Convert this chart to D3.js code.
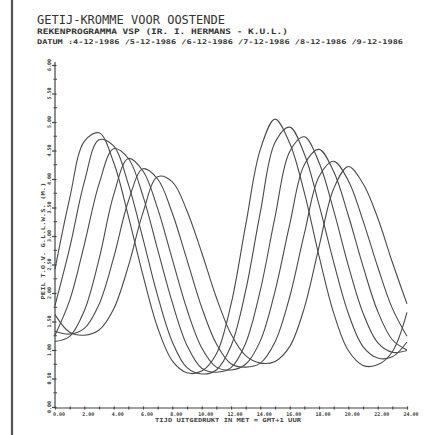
<!DOCTYPE html>
<html><head><meta charset="utf-8">
<script src="https://cdn.jsdelivr.net/npm/d3@7"></script>
<style>body{margin:0;background:#fff}svg{display:block}</style>
</head><body>
<svg id="c" width="444" height="435"></svg>
<script>
// ---- data ----
const titleLines = [
  "GETIJ-KROMME VOOR OOSTENDE",
  "REKENPROGRAMMA VSP (IR. I. HERMANS - K.U.L.)",
  "DATUM :4-12-1986 /5-12-1986 /6-12-1986 /7-12-1986 /8-12-1986 /9-12-1986"
];
const days = ["4-12-1986","5-12-1986","6-12-1986","7-12-1986","8-12-1986","9-12-1986"];
const hours = [0,1,2,3,4,5,6,7,8,9,10,11,12,13,14,15,16,17,18,19,20,21,22,23,24];
const day4 = [2.42,3.66,4.66,4.81,4.29,3.35,2.31,1.39,0.81,0.60,0.63,0.93,1.80,3.19,4.52,5.05,4.63,3.76,2.65,1.65,0.99,0.73,0.74,0.97,1.66];
const day5 = [1.78,2.79,3.95,4.69,4.58,3.91,2.95,1.95,1.14,0.69,0.58,0.65,1.07,2.04,3.42,4.64,4.91,4.44,3.55,2.54,1.64,1.06,0.86,0.88,1.14];
const day6 = [1.26,1.87,2.85,3.91,4.53,4.36,3.70,2.76,1.83,1.08,0.68,0.61,0.69,1.12,2.05,3.33,4.48,4.74,4.29,3.45,2.48,1.65,1.13,0.96,0.99];
const day7 = [1.15,1.24,1.69,2.59,3.72,4.36,4.14,3.48,2.59,1.71,1.04,0.70,0.65,0.75,1.16,2.03,3.20,4.25,4.52,4.13,3.36,2.47,1.68,1.18,1.00];
const day8 = [1.33,1.28,1.38,1.80,2.62,3.61,4.18,4.00,3.40,2.58,1.75,1.11,0.76,0.70,0.77,1.14,1.93,3.04,4.04,4.31,3.97,3.27,2.46,1.73,1.24];
const day9 = [1.62,1.31,1.26,1.35,1.72,2.47,3.41,4.04,3.95,3.44,2.71,1.92,1.28,0.90,0.77,0.80,1.06,1.74,2.81,3.83,4.22,3.92,3.32,2.54,1.81];
const xTickValues = [0,2,4,6,8,10,12,14,16,18,20,22,24];
const xTickLabels = ["0.00","2.00","4.00","6.00","8.00","10.00","12.00","14.00","16.00","18.00","20.00","22.00","24.00"];
const yTickValues = [0,0.5,1,1.5,2,2.5,3,3.5,4,4.5,5,5.5,6];
const yTickLabels = ["0.00","0.50","1.00","1.50","2.00","2.50","3.00","3.50","4.00","4.50","5.00","5.50","6.00"];
const yMinor = [0.25,0.75,1.25,1.75,2.25,2.75,3.25,3.75,4.25,4.75,5.25,5.75];
const xTitle = "TIJD UITGEDRUKT IN MET = GMT+1 UUR";
const yTitle = "PEIL T.O.V. G.L.L.W.S. (M.)";

const series = [day4, day5, day6, day7, day8, day9];

// ---- drawing ----
const svg = d3.select("#c");
const ink = "#444";
const mono = "'DejaVu Sans Mono', 'Liberation Mono', monospace";

// scan border line at left
svg.append("line").attr("x1",12).attr("x2",12).attr("y1",0).attr("y2",435)
  .attr("stroke","#555").attr("stroke-width",2.2);

const x = d3.scaleLinear().domain([0,24]).range([55,407]);
const y = d3.scaleLinear().domain([0,6]).range([407,65]);

// titles
const tl = [
  {y:24, size:12, w:188, weight:"normal"},
  {y:33.5, size:7.5, w:251, weight:"bold"},
  {y:44, size:6.5, w:366, weight:"bold"}
];
titleLines.forEach((t,i)=>{
  svg.append("text").attr("x",37).attr("y",tl[i].y)
    .attr("font-family",mono).attr("font-size",tl[i].size).attr("font-weight",tl[i].weight)
    .attr("fill","#333").attr("textLength",tl[i].w).attr("lengthAdjust","spacingAndGlyphs")
    .text(t);
});

// x axis
const gx = svg.append("g").attr("transform","translate(0,408)");
gx.call(d3.axisBottom(x).tickValues(hours).tickSize(3).tickFormat(""));
gx.selectAll("path,line").attr("stroke",ink).attr("stroke-width",1.2);
gx.selectAll(".tick line").attr("y1",-1.5).attr("y2",1.5);
gx.select(".domain").attr("d","M55,0H407");
const gxl = svg.append("g");
xTickValues.forEach((v,i)=>{
  gxl.append("text").attr("x",x(v)+4).attr("y",415.5).attr("text-anchor","middle")
    .attr("font-family",mono).attr("font-size",5).attr("font-weight","bold").attr("fill",ink)
    .text(xTickLabels[i]);
});
svg.append("text").attr("x",228).attr("y",422).attr("text-anchor","middle")
  .attr("font-family",mono).attr("font-size",5.5).attr("font-weight","bold").attr("fill",ink)
  .attr("textLength",146).attr("lengthAdjust","spacingAndGlyphs").text(xTitle);

// y axis
const gy = svg.append("g").attr("transform","translate(55,0)");
gy.call(d3.axisLeft(y).tickValues(yTickValues).tickSize(3).tickFormat(""));
gy.selectAll("path,line").attr("stroke",ink).attr("stroke-width",1.2);
gy.select(".domain").attr("d","M0,407V62");
gy.selectAll(".tick line").attr("x2",-3).attr("x1",1.5);
yMinor.forEach(v=>{
  gy.append("line").attr("x1",-1.5).attr("x2",2).attr("y1",y(v)).attr("y2",y(v))
    .attr("stroke",ink).attr("stroke-width",1);
});
yTickValues.forEach((v,i)=>{
  svg.append("text").attr("transform",`translate(51,${y(v)}) rotate(-90)`)
    .attr("text-anchor","middle").attr("font-family",mono).attr("font-size",5)
    .attr("font-weight","bold").attr("fill",ink).text(yTickLabels[i]);
});
svg.append("text").attr("transform","translate(45,241) rotate(-90)")
  .attr("text-anchor","middle").attr("font-family",mono).attr("font-size",5.5)
  .attr("font-weight","bold").attr("fill",ink)
  .attr("textLength",117).attr("lengthAdjust","spacingAndGlyphs").text(yTitle);

// curves
const line = d3.line().x((d,i)=>x(hours[i])).y(d=>y(d)).curve(d3.curveCatmullRom.alpha(0.5));
svg.append("g").selectAll("path").data(series).join("path")
  .attr("d",line).attr("fill","none").attr("stroke","#4a4a4a").attr("stroke-width",1.1)
  .attr("data-day",(d,i)=>days[i]);
</script>
</body></html>
